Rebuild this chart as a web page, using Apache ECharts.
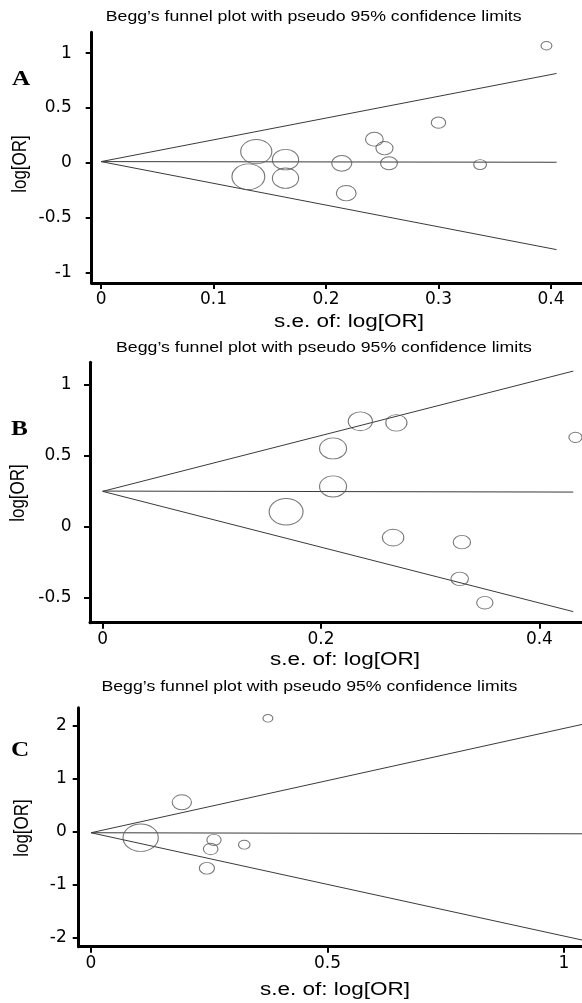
<!DOCTYPE html>
<html><head><meta charset="utf-8">
<script src="https://cdn.jsdelivr.net/npm/echarts@6/dist/echarts.min.js"></script>
<style>html,body{margin:0;padding:0;background:#fff}#c{width:582px;height:1003px}</style>
</head><body><div id="c"></div>
<script>
// ---------- data ----------
const titleText = 'Begg\u2019s funnel plot with pseudo 95% confidence limits';
const xName = 's.e. of: log[OR]';
const yName = 'log[OR]';
const panelLabels = ['A', 'B', 'C'];

// Panel A
const seA  = [0.131, 0.138, 0.164, 0.164, 0.214, 0.218, 0.243, 0.252, 0.256, 0.300, 0.337, 0.396];
const logA = [-0.125, 0.103, 0.030, -0.139, -0.004, -0.276, 0.216, 0.134, -0.003, 0.367, -0.015, 1.067];
const upperA  = [[0, 0.012], [0.405, 0.815]];
const lowerA  = [[0, 0.012], [0.405, -0.790]];
const centerA = [[0, 0.012], [0.405, 0.006]];
const xTicksA = [0, 0.1, 0.2, 0.3, 0.4];
const yTicksA = [-1, -0.5, 0, 0.5, 1];

// Panel B
const seB  = [0.168, 0.211, 0.211, 0.236, 0.266, 0.269, 0.327, 0.329, 0.350, 0.433];
const logB = [0.106, 0.285, 0.553, 0.744, -0.076, 0.733, -0.367, -0.108, -0.535, 0.631];
const upperB  = [[0, 0.250], [0.431, 1.098]];
const lowerB  = [[0, 0.250], [0.431, -0.598]];
const centerB = [[0, 0.252], [0.431, 0.245]];
const xTicksB = [0, 0.2, 0.4];
const yTicksB = [-0.5, 0, 0.5, 1];

// Panel C
const seC  = [0.105, 0.192, 0.245, 0.253, 0.260, 0.324, 0.374];
const logC = [-0.113, 0.554, -0.689, -0.326, -0.156, -0.245, 2.135];
const upperC  = [[0, -0.020], [1.038, 2.020]];
const lowerC  = [[0, -0.020], [1.038, -2.040]];
const centerC = [[0, -0.020], [1.038, -0.040]];
const xTicksC = [0, 0.5, 1];
const yTicksC = [-2, -1, 0, 1, 2];

// ---------- layout / style ----------
const panels = [
  {se: seA, lg: logA, up: upperA, lo: lowerA, ce: centerA, xt: xTicksA, yt: yTicksA,
   grid: {left: 91.7, top: 32.3, width: 490.3, height: 250.7},
   xr: [-0.0083, 0.4276], yr: [-1.094, 1.19], k: 4.3, ylm: 20,
   title: [313.7, 17], xname: [349, 322], yname: [20.3, 164], letter: [21, 80]},
  {se: seB, lg: logB, up: upperB, lo: lowerB, ce: centerB, xt: xTicksB, yt: yTicksB,
   grid: {left: 90, top: 362.3, width: 492, height: 260.4},
   xr: [-0.0116, 0.439], yr: [-0.676, 1.160], k: 5.7, ylm: 18.5,
   title: [324, 348.3], xname: [345, 660], yname: [18.6, 493], letter: [19.5, 430]},
  {se: seC, lg: logC, up: upperC, lo: lowerC, ce: centerC, xt: xTicksC, yt: yTicksC,
   grid: {left: 78.7, top: 707.7, width: 503.3, height: 239},
   xr: [-0.026, 1.038], yr: [-2.166, 2.335], k: 3.7, ylm: 12,
   title: [309.4, 686.7], xname: [335, 990], yname: [21.9, 828], letter: [20, 751]}
];

const tickFont = {fontFamily: 'DejaVu Sans', fontSize: 17, color: '#000'};
const axisLine = {show: true, onZero: false, lineStyle: {color: '#000', width: 3}};
const axisTick = {show: true, inside: false, length: 6, lineStyle: {color: '#000', width: 2}};

const grids = [], xAxes = [], yAxes = [], series = [], graphics = [];
panels.forEach((p, i) => {
  grids.push(Object.assign({outerBoundsMode: 'none', containLabel: false}, p.grid));
  xAxes.push({
    type: 'value', gridIndex: i, min: p.xr[0], max: p.xr[1],
    axisLine: axisLine,
    axisTick: Object.assign({customValues: p.xt}, axisTick),
    axisLabel: Object.assign({customValues: p.xt, margin: 8}, tickFont),
    splitLine: {show: false}
  });
  yAxes.push({
    type: 'value', gridIndex: i, min: p.yr[0], max: p.yr[1],
    axisLine: axisLine,
    axisTick: Object.assign({customValues: p.yt}, axisTick),
    axisLabel: Object.assign({customValues: p.yt, margin: p.ylm}, tickFont),
    splitLine: {show: false}
  });
  [p.up, p.lo, p.ce].forEach(line => {
    series.push({
      type: 'line', xAxisIndex: i, yAxisIndex: i, data: line,
      showSymbol: false, silent: true, z: 2,
      lineStyle: {color: '#3a3a3a', width: 1}
    });
  });
  const k = p.k;
  series.push({
    type: 'scatter', xAxisIndex: i, yAxisIndex: i, z: 3,
    data: p.se.map((s, j) => [s, p.lg[j]]),
    symbol: 'circle',
    symbolSize: v => [k / v[0], 0.78 * k / v[0]],
    itemStyle: {color: 'rgba(0,0,0,0)', borderColor: '#555', borderWidth: 1},
    emphasis: {disabled: true}
  });
  graphics.push({
    type: 'text', x: p.title[0], y: p.title[1], scaleX: 1.18,
    style: {text: titleText, fontFamily: 'Liberation Sans', fontSize: 15,
            fill: '#000', align: 'center', verticalAlign: 'middle'}
  });
  graphics.push({
    type: 'text', x: p.xname[0], y: p.xname[1], scaleX: 1.25,
    style: {text: xName, fontFamily: 'Liberation Sans', fontSize: 18,
            fill: '#000', align: 'center', verticalAlign: 'middle'}
  });
  graphics.push({
    type: 'text', x: p.yname[0], y: p.yname[1], rotation: Math.PI / 2, scaleY: 1.2,
    style: {text: yName, fontFamily: 'Liberation Sans', fontSize: 17,
            fill: '#000', align: 'center', verticalAlign: 'middle'}
  });
  graphics.push({
    type: 'text', x: p.letter[0], y: p.letter[1], scaleX: 1.2,
    style: {text: panelLabels[i], fontFamily: 'Liberation Serif', fontWeight: 'bold', fontSize: 21,
            fill: '#000', align: 'center', verticalAlign: 'middle'}
  });
});

const chart = echarts.init(document.getElementById('c'), null, {renderer: 'canvas'});
chart.setOption({
  animation: false,
  backgroundColor: '#fff',
  grid: grids, xAxis: xAxes, yAxis: yAxes, series: series,
  graphic: graphics
});
</script></body></html>
